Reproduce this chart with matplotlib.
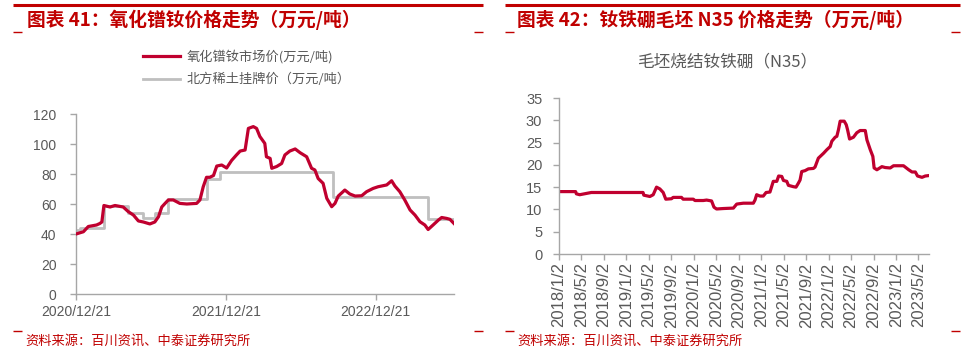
import matplotlib
matplotlib.use("Agg")
import matplotlib.pyplot as plt
from matplotlib.lines import Line2D
import pandas as pd

plt.rcParams['font.family'] = ['Liberation Sans', 'Noto Sans CJK SC', 'DejaVu Sans']

# ---------------- Data: left chart ----------------
market_dates = ["2020-12-21", "2021-01-08", "2021-01-20", "2021-02-09", "2021-02-17", "2021-02-22",
                "2021-02-27", "2021-03-14", "2021-03-26", "2021-04-15", "2021-04-27", "2021-05-10",
                "2021-05-22", "2021-06-03", "2021-06-19", "2021-07-01", "2021-07-10", "2021-07-18",
                "2021-07-26", "2021-08-03", "2021-08-15", "2021-08-31", "2021-09-17", "2021-10-11",
                "2021-10-19", "2021-10-27", "2021-11-04", "2021-11-12", "2021-11-21", "2021-11-29",
                "2021-12-11", "2021-12-23", "2022-01-04", "2022-01-16", "2022-01-25", "2022-02-06",
                "2022-02-14", "2022-02-26", "2022-03-06", "2022-03-14", "2022-03-26", "2022-03-30",
                "2022-04-08", "2022-04-12", "2022-04-24", "2022-05-06", "2022-05-14", "2022-05-26",
                "2022-06-08", "2022-06-20", "2022-07-06", "2022-07-18", "2022-07-26", "2022-08-03",
                "2022-08-15", "2022-08-24", "2022-09-05", "2022-09-13", "2022-09-21", "2022-10-07",
                "2022-10-19", "2022-11-01", "2022-11-17", "2022-11-29", "2022-12-15", "2022-12-27",
                "2023-01-17", "2023-01-29", "2023-02-06", "2023-02-18", "2023-03-02", "2023-03-15",
                "2023-03-27", "2023-04-08", "2023-04-20", "2023-04-28", "2023-05-10", "2023-05-23",
                "2023-05-31", "2023-06-12", "2023-06-20", "2023-06-30"]
market_price = [40.0, 41.5, 45.0, 46.0, 47.0, 48.0,
                59.0, 58.0, 59.0, 58.0, 55.0, 52.6,
                48.7, 48.0, 46.7, 48.0, 51.5, 58.0,
                60.4, 62.7, 62.7, 60.4, 60.0, 60.4,
                62.7, 71.5, 77.8, 77.8, 79.0, 85.3,
                86.0, 84.0, 89.0, 92.7, 95.3, 96.0,
                110.4, 111.6, 110.4, 105.0, 100.4, 91.5,
                90.4, 83.8, 85.0, 87.0, 92.7, 95.3,
                96.7, 94.2, 91.5, 83.8, 82.7, 77.0,
                73.8, 63.8, 58.2, 60.4, 65.3, 69.3,
                66.7, 65.3, 65.5, 68.2, 70.4, 71.5,
                72.7, 75.5, 72.0, 68.2, 62.7, 56.0,
                52.6, 48.2, 46.0, 43.0, 46.0, 49.3,
                51.0, 50.4, 49.8, 47.0]

list_dates = ["2020-12-21", "2020-12-31", "2021-02-27", "2021-04-27", "2021-06-03", "2021-07-01",
              "2021-08-03", "2021-11-04", "2021-12-07", "2022-09-09", "2023-04-28", "2023-06-30"]
list_price = [42.7, 44.2, 58.7, 54.2, 50.4, 54.2, 63.1, 76.4, 81.6, 64.4, 49.8, 49.8]

left_xticks = ["2020-12-21", "2021-12-21", "2022-12-21"]
left_xticklabels = ["2020/12/21", "2021/12/21", "2022/12/21"]
left_yticks = [0, 20, 40, 60, 80, 100, 120]

# ---------------- Data: right chart ----------------
ndfeb_dates = ["2018-01-02", "2018-04-02", "2018-04-06", "2018-04-24", "2018-06-26", "2019-04-02",
               "2019-04-06", "2019-05-09", "2019-05-27", "2019-06-14", "2019-07-02", "2019-07-20",
               "2019-08-03", "2019-09-03", "2019-09-12", "2019-10-27", "2019-11-05", "2019-12-30",
               "2020-01-08", "2020-02-22", "2020-03-11", "2020-04-07", "2020-04-20", "2020-05-04",
               "2020-06-09", "2020-08-03", "2020-08-21", "2020-09-26", "2020-11-19", "2020-11-28",
               "2020-12-07", "2020-12-25", "2021-01-12", "2021-01-27", "2021-02-17", "2021-03-07",
               "2021-03-26", "2021-04-05", "2021-04-22", "2021-05-01", "2021-05-19", "2021-05-28",
               "2021-06-24", "2021-07-08", "2021-07-21", "2021-07-30", "2021-08-08", "2021-08-26",
               "2021-09-13", "2021-10-10", "2021-10-19", "2021-11-06", "2021-12-04", "2021-12-22",
               "2022-01-09", "2022-01-18", "2022-02-05", "2022-02-14", "2022-02-23", "2022-03-04",
               "2022-03-26", "2022-04-06", "2022-04-13", "2022-04-24", "2022-05-15", "2022-06-02",
               "2022-06-20", "2022-07-18", "2022-07-27", "2022-08-14", "2022-08-28", "2022-09-04",
               "2022-09-19", "2022-10-16", "2022-11-03", "2022-11-30", "2022-12-18", "2023-02-10",
               "2023-03-10", "2023-03-28", "2023-04-15", "2023-04-27", "2023-05-21", "2023-06-08",
               "2023-06-28"]
ndfeb_price = [14.0, 14.0, 13.5, 13.3, 13.8, 13.8,
               13.2, 12.9, 13.3, 15.0, 14.6, 13.8,
               12.3, 12.4, 12.7, 12.7, 12.3, 12.3,
               12.0, 12.0, 12.1, 11.9, 10.5, 10.1,
               10.2, 10.3, 11.2, 11.4, 11.4, 12.1,
               13.3, 13.0, 13.0, 13.8, 13.9, 16.3,
               16.3, 17.5, 17.4, 16.5, 16.3, 15.4,
               15.1, 15.0, 15.9, 16.6, 18.5, 18.7,
               19.1, 19.2, 19.5, 21.5, 22.6, 23.4,
               24.1, 25.3, 26.2, 26.4, 27.9, 29.8,
               29.8, 29.0, 27.9, 25.8, 26.2, 27.2,
               27.7, 27.7, 25.6, 23.4, 21.9, 19.3,
               18.9, 19.6, 19.4, 19.3, 19.8, 19.8,
               18.9, 18.4, 18.4, 17.5, 17.2, 17.5,
               17.6]

right_xticks = ["2018-01-02", "2018-05-02", "2018-09-02", "2019-01-02", "2019-05-02", "2019-09-02",
                "2020-01-02", "2020-05-02", "2020-09-02", "2021-01-02", "2021-05-02", "2021-09-02",
                "2022-01-02", "2022-05-02", "2022-09-02", "2023-01-02", "2023-05-02"]
right_xticklabels = ["2018/1/2", "2018/5/2", "2018/9/2", "2019/1/2", "2019/5/2", "2019/9/2",
                     "2020/1/2", "2020/5/2", "2020/9/2", "2021/1/2", "2021/5/2", "2021/9/2",
                     "2022/1/2", "2022/5/2", "2022/9/2", "2023/1/2", "2023/5/2"]
right_yticks = [0, 5, 10, 15, 20, 25, 30, 35]

# ---------------- Styles ----------------
RED = '#C0002F'
GRAY = '#BFBFBF'
TXT = '#595959'
AX = '#A6A6A6'
TITLE_RED = '#C00000'
CJK = ['Noto Sans CJK SC', 'DejaVu Sans']

W, H = 976, 362
fig = plt.figure(figsize=(W / 100, H / 100), dpi=100)


def fx(px):
    return px / W


def fy(py):
    return 1 - py / H


def hline(x0, x1, y, lw=2.0):
    fig.add_artist(Line2D([fx(x0), fx(x1)], [fy(y), fy(y)], color=TITLE_RED, lw=lw,
                          transform=fig.transFigure, solid_capstyle='butt'))


# Decorations
hline(13, 483, 5, 2.2)
hline(505, 960, 5, 2.2)
for a, b in [(13, 22), (474, 483), (505, 514), (951, 960)]:
    hline(a, b, 32, 1.0)
    hline(a, b, 331, 1.0)

fig.text(fx(27), fy(20), "图表 41：氧化镨钕价格走势（万元/吨）", family=CJK, fontsize=13.5,
         fontweight='bold', color=TITLE_RED, va='center', ha='left')
fig.text(fx(517), fy(20), "图表 42：钕铁硼毛坯 N35 价格走势（万元/吨）", family=CJK, fontsize=13.5,
         fontweight='bold', color=TITLE_RED, va='center', ha='left')
fig.text(fx(25), fy(341), "资料来源：百川资讯、中泰证券研究所", family=CJK, fontsize=9.5,
         color=TITLE_RED, va='center', ha='left')
fig.text(fx(517), fy(341), "资料来源：百川资讯、中泰证券研究所", family=CJK, fontsize=9.5,
         color=TITLE_RED, va='center', ha='left')


def style_axes(ax):
    for s in ['top', 'right']:
        ax.spines[s].set_visible(False)
    for s in ['left', 'bottom']:
        ax.spines[s].set_color(AX)
        ax.spines[s].set_linewidth(1.0)
    ax.tick_params(axis='both', colors=AX, labelcolor=TXT, length=4, width=1.0)
    ax.set_facecolor('none')


# ---------------- Left chart ----------------
axL = fig.add_axes([fx(76), fy(294), fx(454) - fx(76), fy(114) - fy(294)])
md = pd.to_datetime(market_dates)
ld = pd.to_datetime(list_dates)
h_gray, = axL.step(ld, list_price, where='post', color=GRAY, lw=2.0, zorder=2)
h_red, = axL.plot(md, market_price, color=RED, lw=2.3, zorder=3)
axL.set_ylim(0, 120)
axL.set_yticks(left_yticks)
axL.set_xlim(pd.Timestamp("2020-12-21"), pd.Timestamp("2023-06-30"))
axL.set_xticks(pd.to_datetime(left_xticks))
axL.set_xticklabels(left_xticklabels)
style_axes(axL)
axL.tick_params(axis='y', labelsize=10, pad=10)
axL.tick_params(axis='x', labelsize=10, pad=4)

fig.legend([h_red, h_gray], ["氧化镨钕市场价(万元/吨)", "北方稀土挂牌价（万元/吨）"],
           loc='upper left', bbox_to_anchor=(fx(138), fy(44)), frameon=False,
           prop={'family': CJK, 'size': 9.5}, labelcolor=TXT, handlelength=2.8,
           handletextpad=0.5, labelspacing=0.75, borderaxespad=0)

# ---------------- Right chart ----------------
axR = fig.add_axes([fx(559), fy(254), fx(929) - fx(559), fy(98) - fy(254)])
nd = pd.to_datetime(ndfeb_dates)
axR.plot(nd, ndfeb_price, color=RED, lw=2.3)
axR.set_ylim(0, 35)
axR.set_yticks(right_yticks)
axR.set_xlim(pd.Timestamp("2018-01-02"), pd.Timestamp("2023-06-28"))
axR.set_xticks(pd.to_datetime(right_xticks))
axR.set_xticklabels(right_xticklabels, rotation=90)
style_axes(axR)
axR.tick_params(axis='y', labelsize=10.5, pad=8)
axR.tick_params(axis='x', labelsize=12, pad=2)

fig.text(fx(727), fy(62), "毛坯烧结钕铁硼（N35）", family=CJK,
         fontsize=12, color=TXT, va='center', ha='center')

fig.savefig("out.png", dpi=100)
